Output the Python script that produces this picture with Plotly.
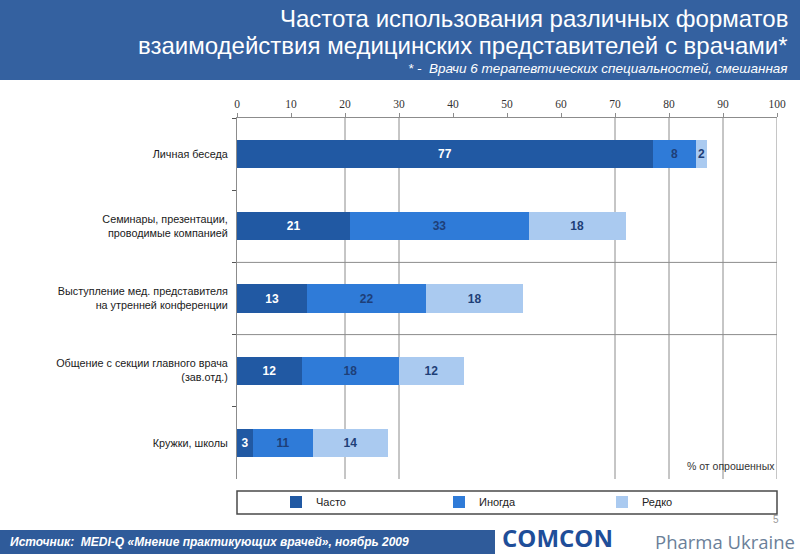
import plotly.graph_objects as go

categories = [
    "Личная беседа",
    "Семинары, презентации,<br>проводимые компанией",
    "Выступление мед. представителя<br>на утренней конференции",
    "Общение с секции главного врача<br>(зав.отд.)",
    "Кружки, школы",
]
often = [77, 21, 13, 12, 3]
sometimes = [8, 33, 22, 18, 11]
rarely = [2, 18, 18, 12, 14]
series_names = ["Часто", "Иногда", "Редко"]
x_ticks = [0, 10, 20, 30, 40, 50, 60, 70, 80, 90, 100]
grid_x = [20, 30, 70, 80, 90, 100]
row_lines = [1.5, 2.5]

colors = ["#2159A3", "#2F7BD8", "#AACAF0"]
text_colors = ["#FFFFFF", "#1E3F78", "#1E3F78"]

W, H = 800, 554
L, R, T, B = 237, 777, 118, 479


def px(x):
    return (x - L) / (R - L)


def py(y):
    return (B - y) / (B - T)


fig = go.Figure()
for name, vals, c, tc in zip(series_names, [often, sometimes, rarely], colors, text_colors):
    fig.add_trace(go.Bar(
        y=categories, x=vals, name=name, orientation="h",
        marker=dict(color=c, line=dict(width=0)),
        text=vals, texttemplate="%{x}", textposition="inside",
        insidetextanchor="middle", constraintext="none",
        textfont=dict(family="Liberation Sans, Arial", size=12, color=tc, weight="bold"),
        hoverinfo="skip",
    ))

shapes = []
# header band
shapes.append(dict(type="rect", xref="paper", yref="paper", x0=px(0), x1=px(W),
                   y0=py(80), y1=py(0), fillcolor="#3461A0", line=dict(width=0), layer="below"))
# footer band
shapes.append(dict(type="rect", xref="paper", yref="paper", x0=px(0), x1=px(495),
                   y0=py(554), y1=py(530), fillcolor="#2F5B9A", line=dict(width=0), layer="below"))
# vertical grid
for gx in grid_x:
    shapes.append(dict(type="line", xref="x", yref="paper", x0=gx, x1=gx, y0=0, y1=1,
                       line=dict(color="#8C8C8C", width=1), layer="below"))
for ry in row_lines:
    shapes.append(dict(type="line", xref="x", yref="y", x0=0, x1=100, y0=ry, y1=ry,
                       line=dict(color="#8C8C8C", width=1), layer="below"))
# legend box
shapes.append(dict(type="rect", xref="paper", yref="paper", x0=0, x1=1,
                   y0=py(514), y1=py(491), fillcolor="rgba(0,0,0,0)",
                   line=dict(color="#4A4A4A", width=1.5)))

annotations = [
    dict(text="Частота использования различных форматов", x=px(790), y=py(18),
         xanchor="right", yanchor="middle", showarrow=False, xref="paper", yref="paper",
         font=dict(family="Liberation Sans, Arial", size=24, color="white")),
    dict(text="взаимодействия медицинских представителей с врачами*", x=px(790), y=py(46),
         xanchor="right", yanchor="middle", showarrow=False, xref="paper", yref="paper",
         font=dict(family="Liberation Sans, Arial", size=24, color="white")),
    dict(text="<i>* -  Врачи 6 терапевтических специальностей, смешанная</i>", x=px(790), y=py(68),
         xanchor="right", yanchor="middle", showarrow=False, xref="paper", yref="paper",
         font=dict(family="Liberation Sans, Arial", size=13.5, color="white")),
    dict(text="% от опрошенных", x=1, y=py(466), xanchor="right", yanchor="middle",
         showarrow=False, xref="paper", yref="paper",
         font=dict(family="Liberation Sans, Arial", size=10.5, color="#333333")),
    dict(text="<b><i>Источник:  MEDI-Q «Мнение практикующих врачей», ноябрь 2009</i></b>",
         x=px(8), y=py(542), xanchor="left", yanchor="middle", showarrow=False,
         xref="paper", yref="paper",
         font=dict(family="Liberation Sans, Arial", size=12, color="white")),
    dict(text="<b>COMCON</b>", x=px(500), y=py(537), xanchor="left", yanchor="middle",
         showarrow=False, xref="paper", yref="paper",
         font=dict(family="Open Sans, Liberation Sans", size=24, color="#1F4E99")),
    dict(text="Pharma Ukraine", x=px(797), y=py(541), xanchor="right", yanchor="middle",
         showarrow=False, xref="paper", yref="paper",
         font=dict(family="Open Sans, Liberation Sans", size=18.5, color="#6B7F99")),
    dict(text="5", x=px(776), y=py(519), xanchor="center", yanchor="middle",
         showarrow=False, xref="paper", yref="paper",
         font=dict(family="Liberation Sans, Arial", size=10, color="#999999")),
]

fig.update_layout(
    width=W, height=H,
    margin=dict(l=L, r=W - R, t=T, b=H - B),
    paper_bgcolor="white", plot_bgcolor="white",
    barmode="stack", bargap=0.61,
    showlegend=True,
    legend=dict(orientation="h", traceorder="normal", x=px(276), y=py(502),
                xanchor="left", yanchor="middle",
                bgcolor="rgba(0,0,0,0)", borderwidth=0, entrywidth=118, entrywidthmode="pixels",
                font=dict(family="Liberation Sans, Arial", size=11, color="#222222")),
    uniformtext=dict(minsize=12, mode="show"),
    shapes=shapes, annotations=annotations,
    xaxis=dict(side="top", range=[0, 100], tickvals=x_ticks, showgrid=False,
               showline=True, linecolor="#8C8C8C", ticks="outside", ticklen=4,
               tickcolor="#8C8C8C", zeroline=False,
               tickfont=dict(family="Liberation Serif, DejaVu Serif", size=11.5, color="#333333")),
    yaxis=dict(autorange="reversed", type="category", showgrid=False, showline=True,
               linecolor="#8C8C8C", ticks="outside", ticklen=4, tickcolor="#555555",
               tickson="boundaries", ticklabelstandoff=6,
               tickfont=dict(family="Liberation Sans, Arial", size=10.8, color="#1A1A1A")),
)

fig.write_html("out.html", config={"displayModeBar": False},
               post_script="document.body.style.margin='0';document.body.style.overflow='hidden';")
